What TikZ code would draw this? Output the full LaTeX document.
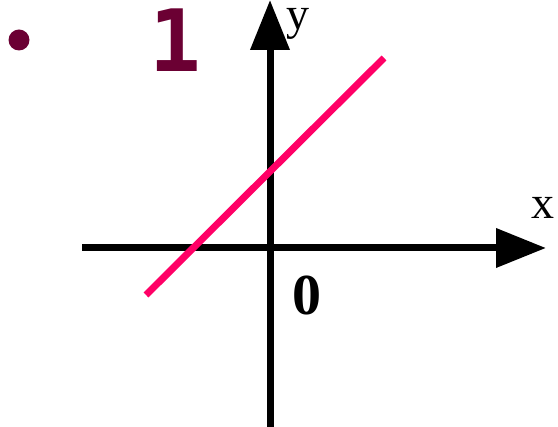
\documentclass[tikz,border=0pt]{standalone}
\usepackage{fontspec}
\setmainfont{Liberation Serif}
\newfontfamily\roundfont{DejaVu Sans Mono}
\usepackage{xcolor}
\definecolor{graphline}{RGB}{255, 0, 102}
\definecolor{maroon}{RGB}{107, 0, 51}
\usetikzlibrary{arrows.meta}

\begin{document}
\begin{tikzpicture}[
        x=1pt, y=-1pt,
        axis/.style={line width=7pt, -{Triangle[length=50pt, width=38pt]}},
        graph/.style={line width=7pt, graphline},
        lbl/.style={inner sep=0pt, font=\fontsize{46}{46}\selectfont},
        num/.style={inner sep=0pt, font=\roundfont\bfseries\fontsize{86}{86}\selectfont, text=maroon}
    ]
    \useasboundingbox (0,0) rectangle (558,427);
    % axes
    \coordinate (xs) at (82,248);
    \coordinate (xe) at (546,248);
    \coordinate (ys) at (270,427);
    \coordinate (ye) at (270,0);
    \draw[axis] (xs) -- (xe);
    \draw[axis] (ys) -- (ye);
    % the line
    \coordinate (ls) at (146,295);
    \coordinate (le) at (384,58);
    \draw[graph] (ls) -- (le);
    % labels
    \node[lbl] (xl) at (543,208) {x};
    \node[lbl] (yl) at (298,24) {y};
    \node[lbl, font=\bfseries\fontsize{58}{58}\selectfont] (zero) at (307,296) {0};
    % item
    \fill[maroon] (19,40) circle (10.5pt);
    \node[num] (one) at (175,40) {1};
\end{tikzpicture}
\end{document}
